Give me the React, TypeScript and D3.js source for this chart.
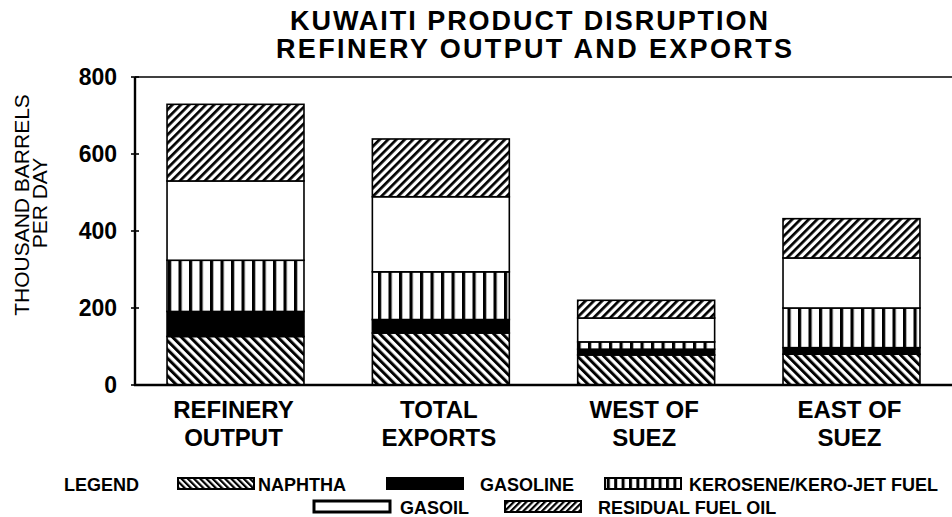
import React from "react";
import * as d3 from "d3";

const categories: string[][] = [
  ["REFINERY", "OUTPUT"],
  ["TOTAL", "EXPORTS"],
  ["WEST OF", "SUEZ"],
  ["EAST OF", "SUEZ"],
];
const seriesKeys = ["naphtha", "gasoline", "kerosene", "gasoil", "residual"];
const seriesLabels = ["NAPHTHA", "GASOLINE", "KEROSENE/KERO-JET FUEL", "GASOIL", "RESIDUAL FUEL OIL"];
const naphtha = [126, 135, 78, 80];
const gasoline = [65, 35, 15, 17];
const kerosene = [133, 124, 19, 103];
const gasoil = [206, 195, 62, 130];
const residual = [199, 150, 46, 102];
const yTicks = [0, 200, 400, 600, 800];
const titleLines = ["KUWAITI  PRODUCT  DISRUPTION", "REFINERY  OUTPUT  AND  EXPORTS"];
const yTitle = ["THOUSAND BARRELS", "PER DAY"];

const W = 952;
const H = 517;
const FONT = "'Liberation Sans', Arial, Helvetica, sans-serif";

export default function App() {
  const rows = categories.map((_, i) => ({
    idx: String(i),
    naphtha: naphtha[i],
    gasoline: gasoline[i],
    kerosene: kerosene[i],
    gasoil: gasoil[i],
    residual: residual[i],
  }));
  const stack = d3.stack<any>().keys(seriesKeys)(rows);

  const x = d3
    .scaleBand<string>()
    .domain(rows.map((r) => r.idx))
    .range([135, 952])
    .paddingInner(0.333)
    .paddingOuter(0.156);
  const y = d3.scaleLinear().domain([0, 800]).range([385, 77]);

  const fills: Record<string, string> = {
    naphtha: "url(#pNaphtha)",
    gasoline: "#000",
    kerosene: "url(#pKero)",
    gasoil: "#fff",
    residual: "url(#pResid)",
  };
  const legendFills: Record<string, string> = {
    naphtha: "url(#lNaphtha)",
    gasoline: "#000",
    kerosene: "url(#lKero)",
    gasoil: "#fff",
    residual: "url(#lResid)",
  };

  // legend layout
  const legendItems = [
    { key: "naphtha", sx: 178, sy: 478, tx: 258, ty: 491 },
    { key: "gasoline", sx: 387, sy: 478, tx: 480, ty: 491 },
    { key: "kerosene", sx: 605, sy: 478, tx: 689, ty: 491 },
    { key: "gasoil", sx: 314, sy: 501, tx: 400, ty: 514 },
    { key: "residual", sx: 505, sy: 501, tx: 598, ty: 514 },
  ];

  return (
    <svg
      width={W}
      height={H}
      style={{ position: "absolute", left: 0, top: 0, background: "#fff" }}
      fontFamily={FONT}
    >
      <defs>
        <pattern id="pNaphtha" patternUnits="userSpaceOnUse" width={6.2} height={6.2} patternTransform="rotate(-45)">
          <rect width={6.2} height={6.2} fill="#fff" />
          <rect width={3} height={6.2} fill="#000" />
        </pattern>
        <pattern id="pResid" patternUnits="userSpaceOnUse" width={5.9} height={5.9} patternTransform="rotate(45)">
          <rect width={5.9} height={5.9} fill="#fff" />
          <rect width={2.7} height={5.9} fill="#000" />
        </pattern>
        <pattern id="pKero" patternUnits="userSpaceOnUse" width={10.5} height={10} x={168}>
          <rect width={10.5} height={10} fill="#fff" />
          <rect width={3.2} height={10} fill="#000" />
        </pattern>
        <pattern id="lNaphtha" patternUnits="userSpaceOnUse" width={4.4} height={4.4} patternTransform="rotate(-45)">
          <rect width={4.4} height={4.4} fill="#fff" />
          <rect width={2.2} height={4.4} fill="#000" />
        </pattern>
        <pattern id="lResid" patternUnits="userSpaceOnUse" width={4.4} height={4.4} patternTransform="rotate(45)">
          <rect width={4.4} height={4.4} fill="#fff" />
          <rect width={2.2} height={4.4} fill="#000" />
        </pattern>
        <pattern id="lKero" patternUnits="userSpaceOnUse" width={7.4} height={10}>
          <rect width={7.4} height={10} fill="#fff" />
          <rect width={3} height={10} fill="#000" />
        </pattern>
      </defs>

      {/* title */}
      <g fontWeight="bold" fontSize={27} textAnchor="middle">
        <text x={529} y={30} textLength={478} lengthAdjust="spacing">
          {titleLines[0]}
        </text>
        <text x={534} y={58} textLength={516} lengthAdjust="spacing">
          {titleLines[1]}
        </text>
      </g>

      {/* y axis title */}
      <g fontSize={21} textAnchor="middle">
        <text transform="translate(29,205) rotate(-90)">{yTitle[0]}</text>
        <text transform="translate(47,203) rotate(-90)">{yTitle[1]}</text>
      </g>

      {/* bars */}
      {stack.map((layer) => (
        <g key={layer.key}>
          {layer.map((d, i) => (
            <rect
              key={i}
              x={x(String(i))!}
              y={y(d[1])}
              width={x.bandwidth()}
              height={Math.max(0, y(d[0]) - y(d[1]))}
              fill={fills[layer.key]}
              stroke="#000"
              strokeWidth={1.6}
            />
          ))}
        </g>
      ))}

      {/* axes */}
      <line x1={135} x2={952} y1={y(800)} y2={y(800)} stroke="#000" strokeWidth={1.6} />
      <line x1={135} x2={135} y1={y(800)} y2={y(0) + 1} stroke="#000" strokeWidth={2.4} />
      <line x1={134} x2={952} y1={y(0)} y2={y(0)} stroke="#000" strokeWidth={2.6} />
      {yTicks.map((t) => (
        <g key={t}>
          <line x1={131} x2={139} y1={y(t)} y2={y(t)} stroke="#000" strokeWidth={1.6} />
          <text x={117} y={y(t) + 8} textAnchor="end" fontWeight="bold" fontSize={23}>
            {t}
          </text>
        </g>
      ))}

      {/* category labels */}
      <g fontWeight="bold" fontSize={24} textAnchor="middle">
        {categories.map((lines, i) => (
          <g key={i}>
            {lines.map((ln, j) => (
              <text key={j} x={x(String(i))! + x.bandwidth() / 2 - 2} y={418 + j * 28}>
                {ln}
              </text>
            ))}
          </g>
        ))}
      </g>

      {/* legend */}
      <g fontWeight="bold" fontSize={18}>
        <text x={64} y={491}>LEGEND</text>
        {legendItems.map((it) => {
          const k = seriesKeys.indexOf(it.key);
          return (
            <g key={it.key}>
              <rect
                x={it.sx}
                y={it.sy}
                width={76}
                height={11}
                fill={legendFills[it.key]}
                stroke="#000"
                strokeWidth={it.key === "gasoil" ? 3 : 2}
              />
              <text x={it.tx} y={it.ty}>{seriesLabels[k]}</text>
            </g>
          );
        })}
      </g>
    </svg>
  );
}
